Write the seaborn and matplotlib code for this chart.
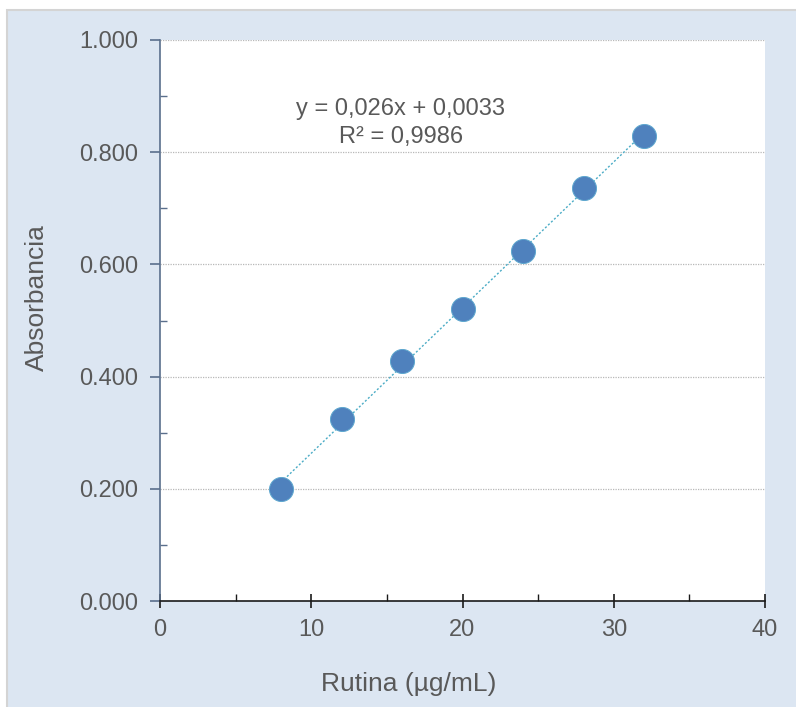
import numpy as np
import pandas as pd
import matplotlib
matplotlib.use("Agg")
import matplotlib.pyplot as plt
from matplotlib.patches import Rectangle
from matplotlib.ticker import MultipleLocator, FixedLocator, FuncFormatter
import seaborn as sns

# Data
concentration = [8, 12, 16, 20, 24, 28, 32]
absorbance = [0.200, 0.324, 0.428, 0.520, 0.623, 0.737, 0.829]
equation_text = "y = 0,026x + 0,0033\nR² = 0,9986"
x_label = "Rutina (µg/mL)"
y_label = "Absorbancia"

df = pd.DataFrame({"conc": concentration, "abs": absorbance})

sns.set_style("white")
plt.rcParams["font.family"] = ["Liberation Sans", "DejaVu Sans"]

text_color = "#595959"
fig = plt.figure(figsize=(7.96, 7.07), dpi=100)
fig.patch.set_facecolor("white")
# Blue background panel with thin gray border on top/left
bg = Rectangle((7 / 796, -0.05), 1.1, 1.05 - 10 / 707, transform=fig.transFigure,
               facecolor="#dce6f2", edgecolor="#d4d4d4", linewidth=1.5, zorder=-10)
fig.patches.append(bg)

ax = fig.add_axes([160 / 796, 1 - 601 / 707, 605 / 796, 561 / 707])
ax.set_facecolor("white")

sns.regplot(data=df, x="conc", y="abs", ax=ax, ci=None, truncate=True,
            scatter_kws=dict(s=300, color="#4f81bd", edgecolors="#5fa8cf",
                             linewidths=0.7, alpha=1, zorder=3),
            line_kws=dict(color="#4bacc6", linestyle=(0, (1.5, 1.5)), linewidth=1.0, zorder=2))

ax.set_xlim(0, 40)
ax.set_ylim(0, 1.0)

ax.xaxis.set_major_locator(MultipleLocator(10))
ax.xaxis.set_minor_locator(FixedLocator([5, 15, 25, 35]))
ax.yaxis.set_major_locator(MultipleLocator(0.2))
ax.yaxis.set_minor_locator(FixedLocator([0.1, 0.3, 0.5, 0.7, 0.9]))
ax.yaxis.set_major_formatter(FuncFormatter(lambda v, p: f"{v:.3f}"))

for v in [0.2, 0.4, 0.6, 0.8, 1.0]:
    ax.axhline(v, color="#b8b8b8", linestyle=(0, (1, 1)), linewidth=0.9, zorder=1)

for s in ["top", "right"]:
    ax.spines[s].set_visible(False)
ax.spines["left"].set_color("#5a6f8c")
ax.spines["left"].set_linewidth(1.2)
ax.spines["bottom"].set_color("#1a1a1a")
ax.spines["bottom"].set_linewidth(1.2)

ax.tick_params(axis="y", which="major", direction="out", length=7, width=1.2,
               color="#5a6f8c", labelsize=17, labelcolor=text_color, pad=9, left=True)
ax.tick_params(axis="y", which="minor", direction="in", length=5, width=1.0,
               color="#5a6f8c", left=True)
ax.tick_params(axis="x", which="major", direction="inout", length=10, width=1.2,
               color="#1a1a1a", labelsize=17, labelcolor=text_color, pad=8, bottom=True)
ax.tick_params(axis="x", which="minor", direction="in", length=5, width=1.0,
               color="#1a1a1a", bottom=True)

ax.set_xlabel(x_label, fontsize=19, color=text_color, va="center")
ax.set_ylabel(y_label, fontsize=19, color=text_color, va="center", ha="center")
ax.xaxis.set_label_coords(0.411, -0.148)
ax.yaxis.set_label_coords(-0.203, 0.54)

ax.text(15.93, 0.852, equation_text, ha="center", va="center", fontsize=17,
        color=text_color, linespacing=1.3)

fig.savefig("out.png", dpi=100)
